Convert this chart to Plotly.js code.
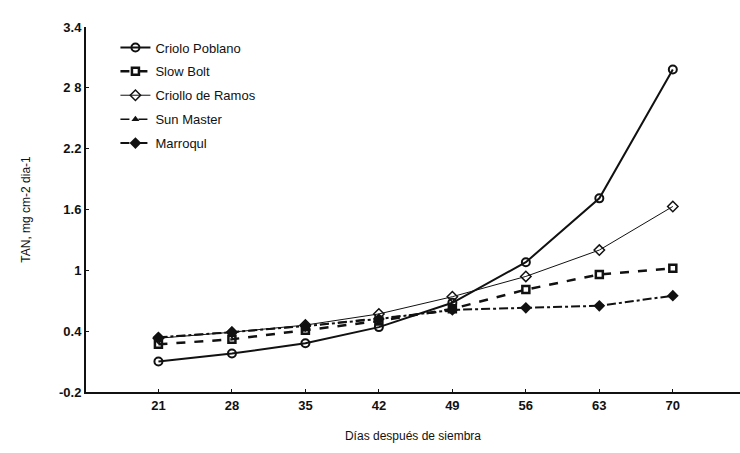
<!DOCTYPE html>
<html>
<head>
<meta charset="utf-8">
<script src="https://cdn.plot.ly/plotly-3.0.1.min.js"></script>
<style>html,body{margin:0;padding:0;background:#fff}#chart{width:740px;height:453px}</style>
</head>
<body>
<div id="chart"></div>
<script>
const days = [21, 28, 35, 42, 49, 56, 63, 70];
const daysSun = [21, 28, 35, 42, 49];
const criolloPoblano = [0.10, 0.18, 0.28, 0.44, 0.68, 1.08, 1.71, 2.98];
const slowBolt = [0.27, 0.32, 0.41, 0.50, 0.62, 0.81, 0.96, 1.02];
const criolloRamos = [0.33, 0.39, 0.46, 0.57, 0.74, 0.94, 1.20, 1.63];
const sunMaster = [0.34, 0.39, 0.45, 0.53, 0.60];
const marroqui = [0.34, 0.39, 0.45, 0.52, 0.61, 0.63, 0.65, 0.75];
const yTicks = [-0.2, 0.4, 1, 1.6, 2.2, 2.8, 3.4];
const yTickText = ['-0.2', '0.4', '1', '1.6', '2.2', '2 8', '3.4'];
const seriesNames = ['Criolo Poblano', 'Slow Bolt', 'Criollo de Ramos', 'Sun Master', 'Marroqul'];

const traces = [
  {x: days, y: criolloPoblano, name: seriesNames[0], legendgroup: 'a', mode: 'lines+markers',
   line: {color: '#111', width: 2}, marker: {symbol: 'circle-open', size: 8, color: '#111', line: {width: 2}}},
  {x: days, y: slowBolt, name: seriesNames[1], legendgroup: 'b', mode: 'lines+markers',
   line: {color: '#111', width: 2.5, dash: 'dash'}, marker: {symbol: 'square-open', size: 7, color: '#111', line: {width: 2.5}}},
  {x: days, y: criolloRamos, name: seriesNames[2], legendgroup: 'c', mode: 'lines+markers',
   line: {color: '#111', width: 1}, marker: {symbol: 'diamond-open', size: 8, color: '#111', line: {width: 1.5}}},
  {x: daysSun, y: sunMaster, name: seriesNames[3], legendgroup: 'd', mode: 'lines+markers',
   line: {color: '#111', width: 1.5, dash: 'dash'}, marker: {symbol: 'triangle-up', size: 7, color: '#111'}},
  {x: days, y: marroqui, name: seriesNames[4], legendgroup: 'e', mode: 'lines+markers',
   line: {color: '#111', width: 2, dash: 'dashdot'}, marker: {symbol: 'diamond', size: 9, color: '#111'}}
];

const layout = {
  width: 740, height: 453,
  margin: {l: 86, r: 0, t: 27, b: 61},
  paper_bgcolor: '#fff', plot_bgcolor: '#fff',
  font: {family: 'Arial, "Liberation Sans", sans-serif', color: '#111', size: 12},
  showlegend: true,
  legend: {x: 0.045, y: 0.985, xanchor: 'left', yanchor: 'top', bgcolor: 'rgba(0,0,0,0)',
           font: {size: 13, color: '#111'}, tracegroupgap: 4, itemwidth: 30, traceorder: 'grouped'},
  xaxis: {
    range: [14.1, 76.4], tickvals: days, ticktext: days.map(String),
    showgrid: false, zeroline: false, showline: true, linecolor: '#111', linewidth: 2,
    ticks: 'inside', ticklen: 3, tickcolor: '#111',
    tickfont: {size: 13, color: '#111', weight: 'bold'},
    title: {text: 'Días después de siembra', font: {size: 12, color: '#111'}, standoff: 20}
  },
  yaxis: {
    range: [-0.2, 3.4], tickvals: yTicks, ticktext: yTickText,
    showgrid: false, zeroline: false, showline: true, linecolor: '#111', linewidth: 2,
    ticks: 'inside', ticklen: 3, tickcolor: '#111',
    tickfont: {size: 13, color: '#111', weight: 'bold'},
    title: {text: 'TAN, mg cm-2 dia-1', font: {size: 12, color: '#111'}, standoff: 26}
  }
};

Plotly.newPlot('chart', traces, layout, {displayModeBar: false, staticPlot: true});
</script>
</body>
</html>
